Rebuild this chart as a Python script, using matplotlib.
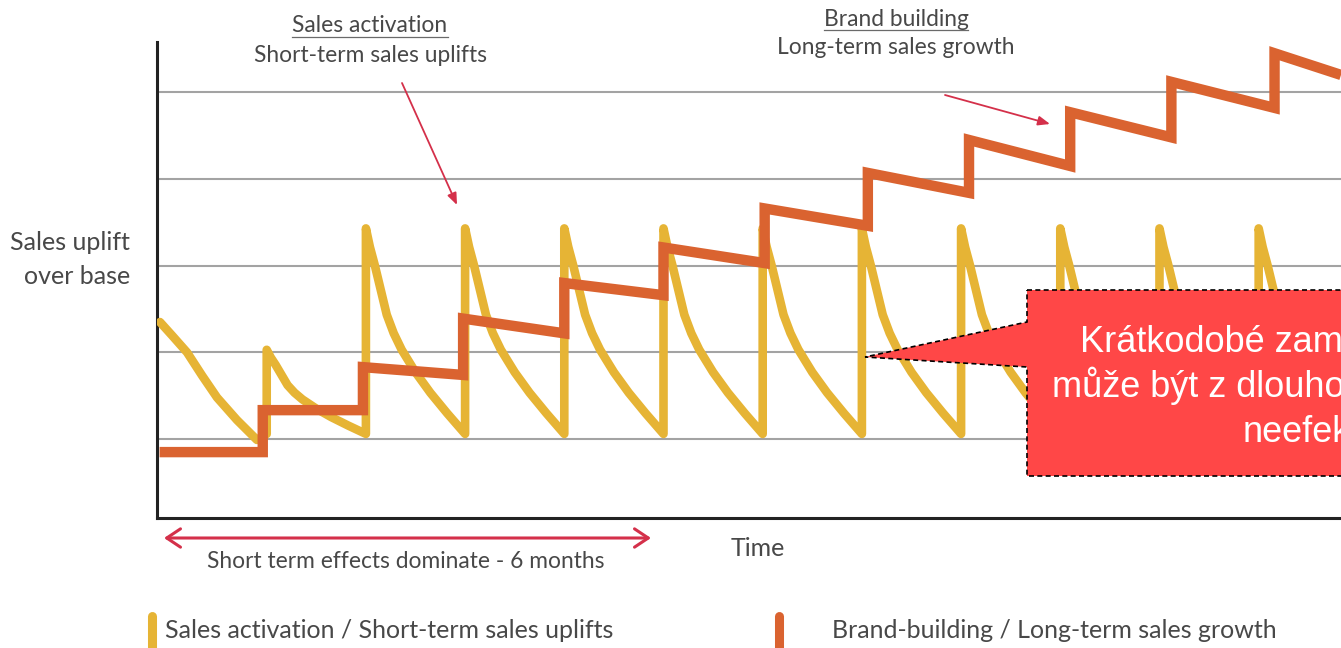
import matplotlib
matplotlib.use("Agg")
import matplotlib.pyplot as plt
from matplotlib.lines import Line2D
from matplotlib.patches import Polygon

# ---------------- data ----------------
# time in units of one activation cycle; sales uplift in gridline units
gridline_levels = [1, 2, 3, 4, 5]

# sales activation (short-term uplifts)
act_lead_x = [-0.076, 0.05, 0.197, 0.35, 0.499, 0.70, 0.902]   # decay visible before first burst
act_lead_y = [2.35, 2.19, 2.00, 1.73, 1.48, 1.22, 0.99]
act_spike_x = [1, 2, 3, 4, 5, 6, 7, 8, 9, 10, 11]
act_peak_y = [2.03, 3.43, 3.43, 3.43, 3.43, 3.43, 3.43, 3.43, 3.43, 3.43, 3.43]
act_trough_y = 1.06
act_decay_t = [0.0, 0.04, 0.09, 0.15, 0.21, 0.28, 0.36, 0.50, 0.65, 0.82, 1.0]   # fraction of a cycle
act_decay_h = [1.0, 0.91, 0.82, 0.70, 0.58, 0.49, 0.41, 0.30, 0.20, 0.10, 0.0]   # fraction of burst height

# brand building (long-term growth)
brand_start_x = -0.08
brand_end_x = 11.83
brand_jump_x = [0.96, 1.97, 2.98, 4.0, 5.0, 6.02, 7.06, 8.08, 9.1, 10.12, 11.16]
brand_seg_start = [0.85, 1.334, 1.83, 2.39, 2.80, 3.21, 3.66, 4.07, 4.45, 4.77, 5.12, 5.45]
brand_seg_end = [0.85, 1.334, 1.74, 2.22, 2.66, 3.03, 3.46, 3.84, 4.15, 4.48, 4.82, 5.20]

legend_labels = ["Sales activation / Short-term sales uplifts",
                 "Brand-building / Long-term sales growth"]
callout_lines = ["Krátkodobé zaměření na výkon",
                 "může být z dlouhodobého hlediska",
                 "neefektivní"]

# ---------------- styling ----------------
YELLOW = "#E6B435"
ORANGE = "#DA6330"
RED = "#D4304A"
GRAY_TXT = "#484848"
W, H = 1341, 648
TXT_FONT = ["Lato", "DejaVu Sans"]

fig = plt.figure(figsize=(W / 100, H / 100), dpi=100)
fig.patch.set_facecolor("white")


def fx(p):
    return p / W


def fy(p):
    return 1 - p / H


ax = fig.add_axes([fx(157), fy(518), fx(1341) - fx(157), fy(42) - fy(518)])
ax.set_xlim(-0.106, 11.83)
ax.set_ylim(0.09, 5.58)
for s in ["top", "right"]:
    ax.spines[s].set_visible(False)
for s in ["left", "bottom"]:
    ax.spines[s].set_color("#222222")
    ax.spines[s].set_linewidth(2.2)
ax.set_xticks([])
ax.set_yticks([])

for g in gridline_levels:
    ax.axhline(g, color="#a3a3a3", lw=1.5, zorder=1)

# sales activation sawtooth
xs = list(act_lead_x)
ys = list(act_lead_y)
for sx, pk in zip(act_spike_x, act_peak_y):
    xs.append(sx)
    ys.append(act_trough_y)
    for t, h in zip(act_decay_t, act_decay_h):
        xs.append(sx + t)
        ys.append(act_trough_y + h * (pk - act_trough_y))
ax.plot(xs, ys, color=YELLOW, lw=6.2, solid_capstyle="round",
        solid_joinstyle="round", zorder=3)

# brand building steps
bx = [brand_start_x]
by = [brand_seg_start[0]]
edges = brand_jump_x + [brand_end_x]
for i, jx in enumerate(edges):
    bx.append(jx)
    by.append(brand_seg_end[i])
    if i < len(brand_jump_x):
        bx.append(jx)
        by.append(brand_seg_start[i + 1])
ax.plot(bx, by, color=ORANGE, lw=7.5, solid_capstyle="butt",
        solid_joinstyle="miter", zorder=4)

# ---------------- texts ----------------
fs_big = 18
fs_small = 16.4
fig.text(fx(130), fy(243), "Sales uplift", ha="right", va="center",
         fontsize=fs_big, color=GRAY_TXT, family=TXT_FONT)
fig.text(fx(130), fy(276), "over base", ha="right", va="center",
         fontsize=fs_big, color=GRAY_TXT, family=TXT_FONT)
fig.text(fx(758), fy(549), "Time", ha="center", va="center",
         fontsize=fs_big, color=GRAY_TXT, family=TXT_FONT)
fig.text(fx(406), fy(561), "Short term effects dominate - 6 months", ha="center",
         va="center", fontsize=fs_small, color=GRAY_TXT, family=TXT_FONT)

t1 = fig.text(fx(370), fy(26), "Sales activation", ha="center", va="center",
              fontsize=fs_small, color=GRAY_TXT, family=TXT_FONT)
fig.text(fx(370), fy(55), "Short-term sales uplifts", ha="center", va="center",
         fontsize=fs_small, color=GRAY_TXT, family=TXT_FONT)
t2 = fig.text(fx(896), fy(19), "Brand building", ha="center", va="center",
              fontsize=fs_small, color=GRAY_TXT, family=TXT_FONT)
fig.text(fx(896), fy(48), "Long-term sales growth", ha="center", va="center",
         fontsize=fs_small, color=GRAY_TXT, family=TXT_FONT)

# underlines
fig.canvas.draw()
r = fig.canvas.get_renderer()
for t, uy in [(t1, 37), (t2, 30)]:
    bb = t.get_window_extent(r)
    fig.add_artist(Line2D([bb.x0 / W, bb.x1 / W], [fy(uy), fy(uy)],
                          color="#6a6a6a", lw=0.9))

# red annotation arrows
arrow_kw = dict(arrowstyle="-|>,head_length=0.5,head_width=0.2", color=RED,
                lw=1.3, mutation_scale=14, shrinkA=0, shrinkB=0)
ax.annotate("", xy=(457, H - 205), xycoords="figure pixels",
            xytext=(402, H - 83), textcoords="figure pixels", arrowprops=arrow_kw)
ax.annotate("", xy=(1050, H - 124), xycoords="figure pixels",
            xytext=(945, H - 95), textcoords="figure pixels", arrowprops=arrow_kw)
ax.annotate("", xy=(164, H - 538), xycoords="figure pixels",
            xytext=(651, H - 538), textcoords="figure pixels",
            arrowprops=dict(arrowstyle="<->,head_length=0.45,head_width=0.3",
                            color=RED, lw=2.2, mutation_scale=22,
                            shrinkA=0, shrinkB=0),
            annotation_clip=False)

# legend
for mx, col, lab, tx in [(152, YELLOW, legend_labels[0], 165),
                         (779, ORANGE, legend_labels[1], 832)]:
    fig.add_artist(Line2D([fx(mx), fx(mx)], [fy(616), fy(655)], color=col,
                          lw=6.5, solid_capstyle="round"))
    fig.text(fx(tx), fy(630), lab, ha="left", va="center", fontsize=fs_big,
             color=GRAY_TXT, family=TXT_FONT)

# callout (the reference image is cropped through it on the right)
poly = [(1027, 290), (1350, 290), (1350, 476), (1027, 476), (1027, 367),
        (865, 357), (1027, 322)]
fig.add_artist(Polygon([(fx(a), fy(b)) for a, b in poly], closed=True,
                       facecolor="#FF4747", edgecolor="black", lw=1.2,
                       linestyle=(0, (3, 2)), zorder=10))
for line, base in zip(callout_lines, [352, 397, 442]):
    fig.text(fx(1330), fy(base), line, ha="center", va="baseline",
             fontsize=26, color="white", family=["Liberation Sans", "DejaVu Sans"],
             zorder=11)

fig.savefig("out.png", dpi=100, facecolor="white")
